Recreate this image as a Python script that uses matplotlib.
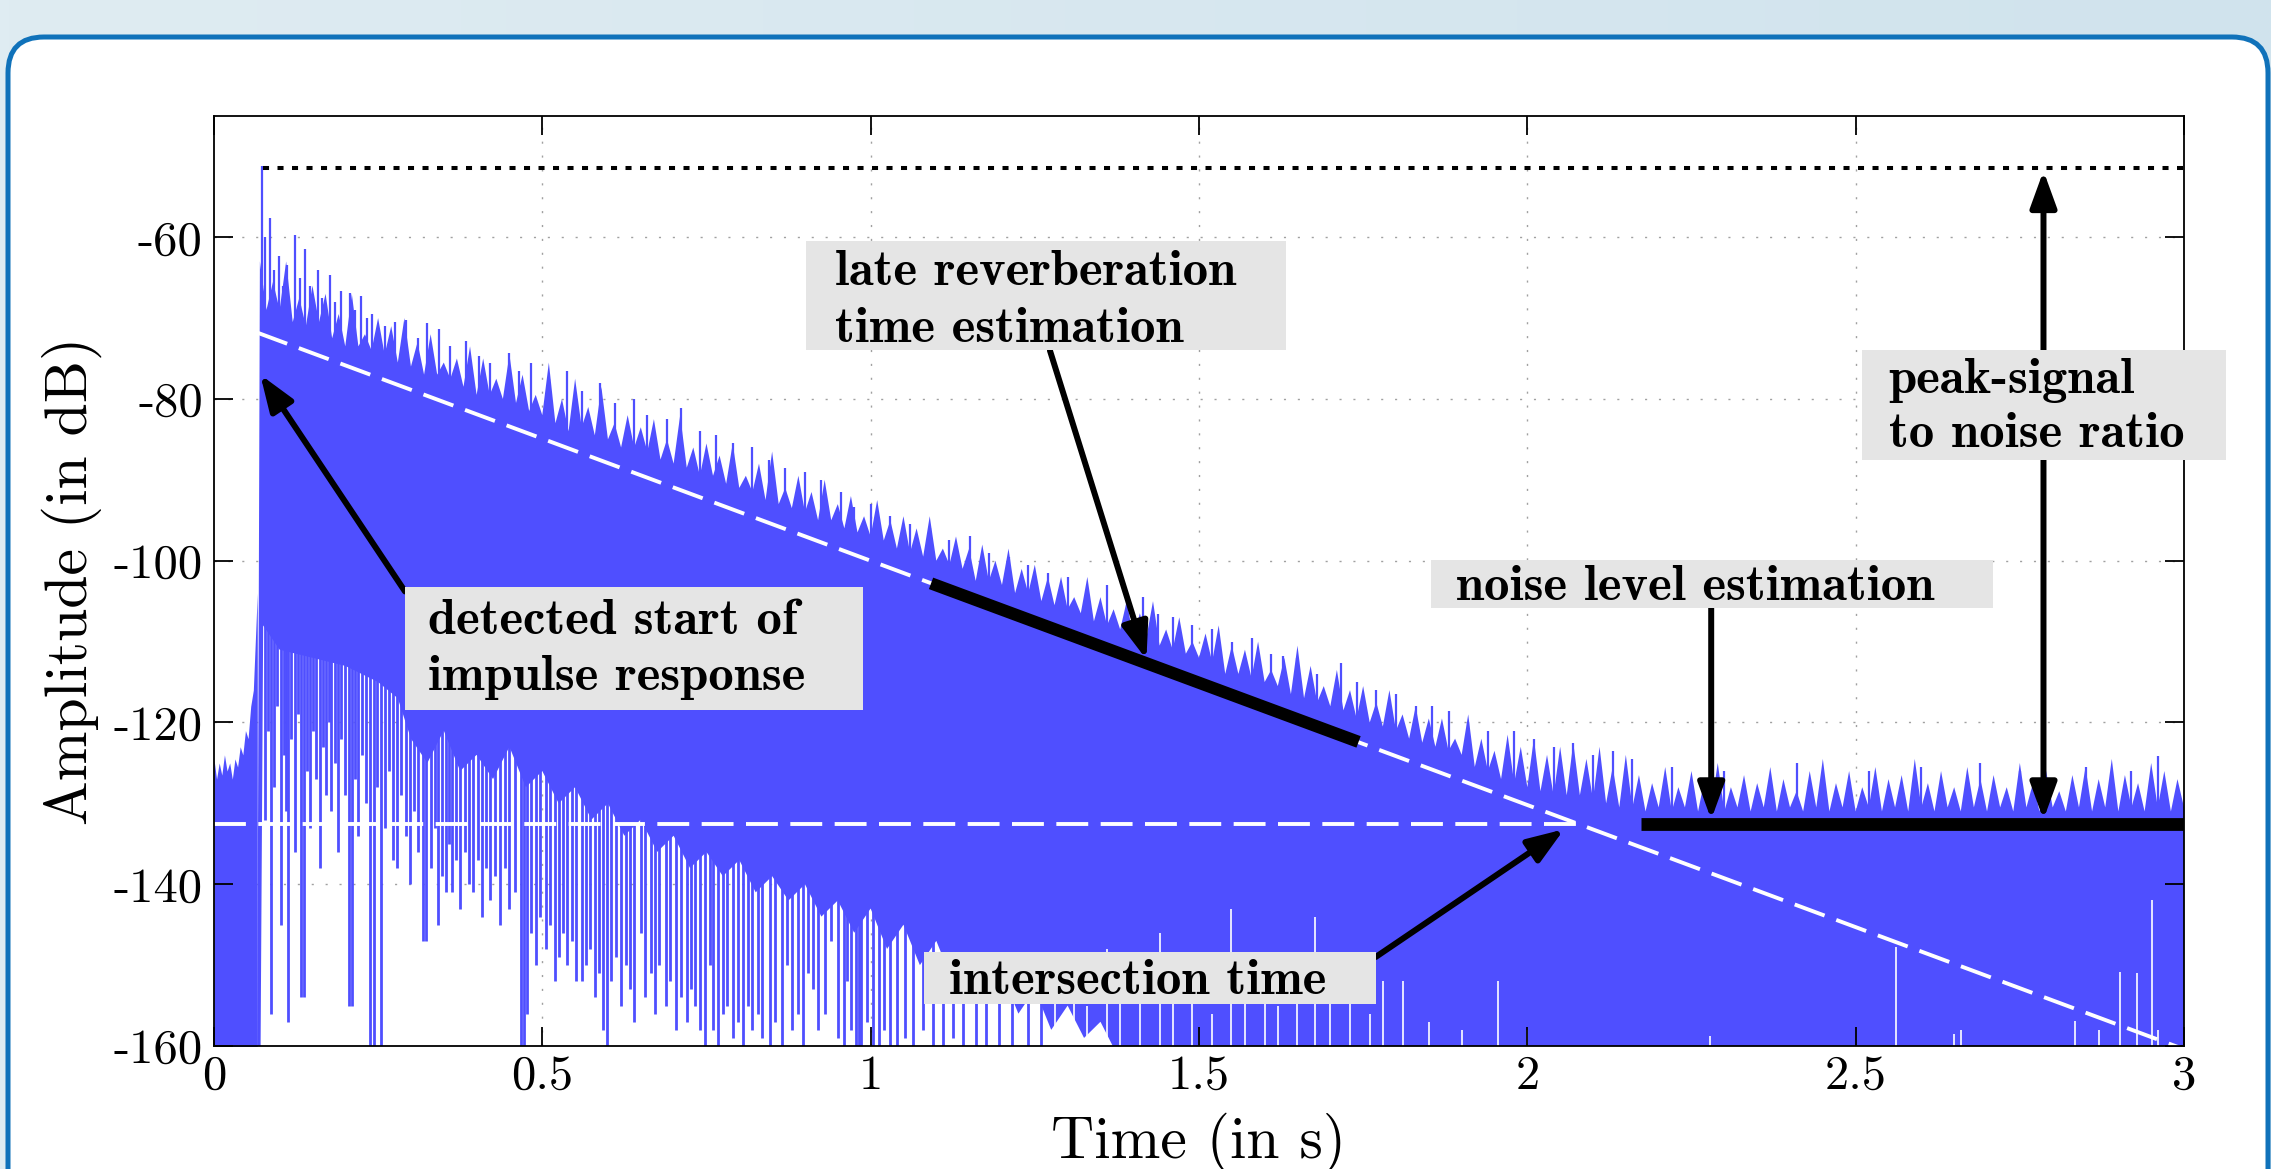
import numpy as np
import matplotlib.pyplot as plt
from matplotlib.patches import FancyBboxPatch, Rectangle
from matplotlib.colors import LinearSegmentedColormap
from matplotlib.ticker import FuncFormatter

plt.rcParams['font.family'] = 'cmr10'
plt.rcParams['mathtext.fontset'] = 'cm'
plt.rcParams['axes.unicode_minus'] = False

BLUE = '#4f4fff'
BOX = '#e5e5e5'

# ---- impulse response in dB (time in s) ----
# noise before the onset
pre_t = [0.000, 0.004, 0.008, 0.012, 0.016, 0.020, 0.024, 0.028, 0.032,
         0.036, 0.040, 0.044, 0.048, 0.052, 0.056, 0.060, 0.063, 0.066]
pre_db = [-124.5, -127, -125, -126.5, -124, -126, -125, -127, -124.5,
          -125.5, -123, -124, -121, -122, -118, -116, -110, -104]

# upper edge of the dense part, every 10 ms from 0.07 s
edge_db = [
    -63, -69, -65.5, -69, -63, -70.5, -67.5, -71, -66, -70.5,
    -67, -72.5, -69.5, -73.5, -67, -73.5, -72, -74, -70, -74.5,
    -71, -75.5, -70, -76, -73, -77, -72, -77, -75.5, -77.5,
    -75, -78.5, -73.5, -79.5, -75, -79.5, -77.5, -80, -74.5, -80.5,
    -77, -81.5, -79.5, -82, -75.5, -83, -80, -84, -77.5, -83.5,
    -81, -84.5, -78.5, -85, -83, -86, -82, -86, -83.5, -86.5,
    -82.5, -87.5, -85, -88, -82, -88.5, -86, -89.5, -85.5, -89.5,
    -87, -90.5, -85.5, -91, -89.5, -91.5, -88, -92.5, -86.5, -93,
    -91, -93.5, -89.5, -94, -91.5, -95, -90, -95, -93, -96,
    -92, -96.5, -94.5, -97, -92.5, -97.5, -95, -98.5, -94.5, -99,
    -96, -99.5, -94.5, -100, -98.5, -100.5, -97, -101, -98.5, -102.5,
    -98, -102.5, -100, -103, -98.5, -104, -101, -104, -100.5, -105,
    -102, -105.5, -102, -106, -104.5, -106.5, -102, -107.5, -104.5, -108,
    -106, -108.5, -105, -109.5, -106.5, -109.5, -105, -110.5, -108.5, -111,
    -107, -111.5, -110, -112, -109, -112.5, -108, -114, -110.5, -114,
    -111, -114.5, -110, -115, -113.5, -115.5, -112, -116.5, -110.5, -117,
    -113, -117.5, -115.5, -118, -113.5, -118.5, -116, -119.5, -115.5, -120,
    -117.5, -120.5, -116, -121, -119, -122, -118, -122.5, -119.5, -123,
    -119.5, -123.5, -122, -124, -119, -125.5, -122, -126, -123.5, -127,
    -121.5, -127.5, -123, -128, -122, -128.5, -124, -129, -123, -129,
    -122.5, -129, -124.5, -129.5, -123, -130, -125.5, -130.5, -124, -130.5,
    -126.5, -131, -127.5, -130.5, -125.5, -131, -128, -130.5, -126, -131,
    -127, -130.5, -125, -131, -128, -130.5, -126.5, -131, -127.5, -130.5,
    -125.5, -131, -127, -130.5, -128.5, -131, -126, -130.5, -124.5, -131,
    -127.5, -130.5, -126, -131, -128, -130.5, -125.5, -131, -127, -130.5,
    -126.5, -131, -124.5, -130.5, -127.5, -131, -126, -130.5, -128, -131,
    -125.5, -130.5, -127, -131, -126.5, -130.5, -128, -131, -125, -130.5,
    -127.5, -131, -126, -130.5, -128.5, -131, -126.5, -130.5, -125.5, -131,
    -127, -130.5, -124.5, -131, -126.5, -130.5, -127.5, -131, -125, -130.5,
    -126, -131, -127, -130.5,
]
edge_t = np.round(0.07 + 0.01 * np.arange(len(edge_db)), 2)

# lower edge of the dense part
floor_t = [0.066, 0.071, 0.075, 0.10, 0.15, 0.20, 0.25, 0.28,
           0.300, 0.325, 0.350, 0.375, 0.400, 0.425, 0.450, 0.475, 0.500,
           0.525, 0.550, 0.575, 0.600, 0.625, 0.650, 0.675, 0.700, 0.725,
           0.750, 0.775, 0.800, 0.825, 0.850, 0.875, 0.900, 0.925, 0.950,
           0.975, 1.000, 1.025, 1.050, 1.075, 1.100, 1.125, 1.150, 1.175,
           1.200, 1.225, 1.250, 1.275, 1.300, 1.325, 1.350, 1.375, 1.400, 3.000]
floor_db = [-161, -161, -108, -111, -112, -113, -115, -117,
            -122, -125, -121, -126, -124, -127, -123, -128, -126,
            -130, -128, -132, -130, -134, -132, -136, -134, -138,
            -136, -139, -137, -141, -139, -142, -140, -144, -142,
            -146, -143, -148, -145, -150, -147, -152, -149, -154,
            -151, -156, -153, -158, -155, -159, -157, -161, -161, -161]

# tall single peaks above the edge
hair_t = [0.0728, 0.078, 0.086, 0.092, 0.0986, 0.105, 0.112, 0.124, 0.131, 0.139,
          0.147, 0.158, 0.165, 0.177, 0.185, 0.194, 0.207, 0.215, 0.224, 0.233,
          0.241, 0.26, 0.275, 0.293, 0.31, 0.324, 0.343, 0.36, 0.384, 0.403,
          0.42, 0.449, 0.465, 0.483, 0.51, 0.537, 0.56, 0.588, 0.61, 0.64,
          0.66, 0.69, 0.711, 0.74, 0.765, 0.79, 0.82, 0.845, 0.87, 0.9,
          0.925, 0.955, 0.975, 1.0, 1.03, 1.06, 1.09, 1.12, 1.152, 1.18,
          1.21, 1.24, 1.27, 1.3, 1.33, 1.36, 1.39, 1.415, 1.438, 1.46,
          1.49, 1.52, 1.55, 1.58, 1.61, 1.628, 1.65, 1.68, 1.716, 1.74,
          1.77, 1.8, 1.83, 1.855, 1.88, 1.91, 1.94, 1.98, 2.01, 2.04,
          2.07, 2.10, 2.13, 2.16, 2.22, 2.3, 2.41, 2.52, 2.6, 2.69,
          2.75, 2.85, 2.92, 2.96]
hair_db = [-51.2, -60, -57.6, -64, -62.3, -66, -63.5, -59.7, -65, -61.5,
           -66, -64.1, -67.5, -64.7, -68, -66.6, -66.9, -69, -67.3, -70,
           -69.5, -71, -70.5, -70.2, -72.5, -70.6, -71.4, -73.5, -72.8, -74.7,
           -75.5, -74.3, -76.5, -75.5, -77.5, -76.5, -79, -78, -80.5, -80,
           -82, -82.5, -81.1, -84, -84.5, -85.5, -86, -87.5, -88.5, -89,
           -90, -91.5, -93.4, -93, -94.5, -95.5, -96, -97.5, -96.9, -99,
           -99.5, -100.5, -101.5, -102, -103.5, -103, -105, -104.5, -106.6, -107,
           -108, -108.5, -110, -109.5, -111.5, -111.8, -112, -114, -112.6, -115,
           -116, -116.5, -118, -118, -118.6, -120, -121, -121, -122, -123,
           -122.5, -124, -123.5, -124.5, -125.5, -126, -125, -126, -125.5, -125,
           -126, -125.5, -126, -124.2]

# deep single dips below the dense part (time, lowest level)
drops = [
    (0.078, -132), (0.083, -121), (0.087, -156), (0.091, -128), (0.096, -118),
    (0.102, -145), (0.106, -124), (0.110, -131), (0.113, -157), (0.118, -122),
    (0.123, -136), (0.128, -119), (0.132, -154), (0.137, -154), (0.141, -126),
    (0.146, -133), (0.151, -121), (0.156, -127), (0.161, -138), (0.166, -123),
    (0.171, -129), (0.175, -120), (0.179, -131), (0.184, -125), (0.189, -136),
    (0.194, -122), (0.199, -129), (0.206, -155), (0.210, -155), (0.215, -127),
    (0.220, -134), (0.226, -124), (0.232, -130), (0.238, -161), (0.243, -161),
    (0.248, -128), (0.255, -161), (0.260, -133), (0.266, -126), (0.272, -137),
    (0.279, -138), (0.285, -129), (0.292, -134), (0.298, -140), (0.305, -131),
    (0.311, -136), (0.318, -147), (0.323, -147), (0.330, -138), (0.336, -133),
    (0.341, -145), (0.347, -139), (0.353, -141), (0.358, -135), (0.362, -141),
    (0.368, -137), (0.375, -143), (0.382, -136), (0.388, -140), (0.395, -141),
    (0.402, -137), (0.408, -144), (0.415, -138), (0.420, -142), (0.428, -139),
    (0.435, -145), (0.443, -138), (0.450, -143), (0.459, -141), (0.467, -161),
    (0.472, -161), (0.476, -156), (0.483, -146), (0.490, -150), (0.497, -144),
    (0.505, -148), (0.512, -145), (0.520, -152), (0.525, -149), (0.532, -146),
    (0.538, -150), (0.545, -147), (0.552, -152), (0.560, -152), (0.566, -150),
    (0.573, -148), (0.580, -154), (0.586, -151), (0.592, -158), (0.598, -161),
    (0.605, -152), (0.612, -149), (0.620, -155), (0.627, -150), (0.634, -153),
    (0.640, -157), (0.650, -146), (0.657, -154), (0.665, -151), (0.672, -156),
    (0.678, -150), (0.688, -155), (0.695, -152), (0.703, -158), (0.712, -154),
    (0.720, -157), (0.726, -153), (0.733, -155), (0.740, -158), (0.748, -161),
    (0.755, -150), (0.760, -158), (0.767, -161), (0.775, -156), (0.782, -155),
    (0.790, -159), (0.798, -157), (0.806, -161), (0.813, -155), (0.820, -158),
    (0.828, -156), (0.835, -159), (0.847, -161), (0.855, -157), (0.865, -161),
    (0.872, -150), (0.880, -158), (0.890, -156), (0.897, -161), (0.905, -151),
    (0.912, -153), (0.920, -158), (0.930, -156), (0.940, -147), (0.950, -159),
    (0.959, -161), (0.964, -152), (0.970, -158), (0.977, -161), (0.982, -161),
    (0.986, -161), (0.995, -157), (1.003, -161), (1.012, -161), (1.020, -158),
    (1.030, -161), (1.040, -161), (1.052, -159), (1.065, -161), (1.080, -158),
    (1.095, -161), (1.110, -161), (1.125, -159), (1.140, -161), (1.160, -161),
    (1.175, -161), (1.195, -161), (1.215, -161), (1.240, -161), (1.260, -161),
]

# thin white gaps reaching up from the bottom (time, top level)
gaps = [
    (1.28, -152), (1.31, -150), (1.33, -155), (1.36, -148), (1.38, -153),
    (1.41, -151), (1.44, -146), (1.46, -154), (1.49, -150), (1.52, -156),
    (1.549, -143), (1.57, -152), (1.60, -149), (1.62, -155), (1.65, -151),
    (1.677, -144), (1.70, -153), (1.73, -150), (1.76, -156), (1.78, -152),
    (1.81, -152), (1.85, -157), (1.90, -158), (1.956, -152), (2.0, -158),
    (2.278, -158.7), (2.561, -147.8), (2.65, -158.5), (2.66, -158),
    (2.834, -156.9), (2.87, -158), (2.902, -150.9), (2.928, -151),
    (2.951, -142), (2.96, -158),
]

# estimates drawn on top
decay_t = [0.066, 3.0]
decay_db = [-71.8, -160.4]
noise_level = -132.6
noise_dash_t = [0.0, 2.08]
late_fit_t = [1.092, 1.743]
late_fit_db = [-102.8, -122.4]
noise_fit_t = [2.173, 3.0]
peak_level = -51.4
peak_t = [0.075, 3.0]

# ---- figure ----
fig = plt.figure(figsize=(22.71, 11.69), dpi=100)

bg = fig.add_axes([0, 0, 1, 1], zorder=-10)
grad = np.linspace(0, 1, 256).reshape(1, -1)
bg.imshow(grad, aspect='auto', extent=[0, 1, 0, 1],
          cmap=LinearSegmentedColormap.from_list('bg', ['#dfecf2', '#d0e3ed']))
bg.set_axis_off()

panel = FancyBboxPatch((0.08, -0.5), 22.60, 11.82,
                       boxstyle='round,pad=0,rounding_size=0.36',
                       transform=fig.dpi_scale_trans, facecolor='white',
                       edgecolor='#1072ba', linewidth=3.6, zorder=-5)
fig.add_artist(panel)

ax = fig.add_axes([0.0942, 0.1052, 0.8675, 0.7957])
ax.set_xlim(0, 3)
ax.set_ylim(-160, -45)

# grid under the data
for xv in [0.5, 1.0, 1.5, 2.0, 2.5]:
    ax.axvline(xv, color='#a0a0a0', lw=1.0, dashes=(1.5, 8.5), zorder=0.5)
for yv in [-140, -120, -100, -80, -60]:
    ax.axhline(yv, color='#a0a0a0', lw=1.0, dashes=(1.5, 8.5), zorder=0.5)

# signal
ax.fill_between(pre_t, -161, pre_db, color=BLUE, lw=0, zorder=1)
body = list(zip(edge_t, edge_db)) + list(zip(floor_t[::-1], floor_db[::-1]))
ax.fill(*zip(*body), color=BLUE, lw=0, zorder=1)
ax.vlines(hair_t, np.array(hair_db) - 15, hair_db, color=BLUE, lw=1.6, zorder=1)

drop_t, drop_db = zip(*drops)
fl = np.array(floor_db)
idx = np.searchsorted(floor_t, drop_t, side='right') - 1
drop_top = np.maximum(fl[idx], fl[idx + 1]) + 1
ax.vlines(drop_t, drop_db, drop_top, color=BLUE, lw=2.0, zorder=1)

gap_t, gap_db = zip(*gaps)
ax.vlines(gap_t, -161, gap_db, color='white', lw=1.2, zorder=1.2)

# estimated lines
ax.plot(decay_t, decay_db, color='white', lw=2.8, dashes=(8.2, 3.2), zorder=3)
ax.plot(noise_dash_t, [noise_level] * 2, color='white', lw=2.8, dashes=(8.2, 3.2), zorder=3)
ax.plot(peak_t, [peak_level] * 2, color='black', lw=2.9, dashes=(1.5, 2.1), zorder=3)
ax.plot(late_fit_t, late_fit_db, color='black', lw=8.8, solid_capstyle='butt', zorder=4)
ax.plot(noise_fit_t, [noise_level] * 2, color='black', lw=9.2, solid_capstyle='butt', zorder=4)

# annotation boxes, texts and arrows
boxes = [
    (0.291, 0.988, -118.5, -103.3),
    (0.902, 1.632, -74.0, -60.5),
    (2.510, 3.064, -87.5, -74.0),
    (1.853, 2.709, -105.8, -99.9),
    (1.081, 1.769, -154.8, -148.4),
]
for x0, x1, y0, y1 in boxes:
    ax.add_patch(Rectangle((x0, y0), x1 - x0, y1 - y0, facecolor=BOX,
                           edgecolor='none', zorder=6, clip_on=False))

lines = [
    (0.326, -109.0, 'detected start of'), (0.326, -116.0, 'impulse response'),
    (0.945, -65.9, 'late reverberation'), (0.945, -72.9, 'time estimation'),
    (2.55, -79.3, 'peak-signal'), (2.55, -86.0, 'to noise ratio'),
    (1.891, -104.8, 'noise level estimation'),
    (1.120, -153.6, 'intersection time'),
]
for x, y, s in lines:
    ax.text(x, y, s, family='cmb10', fontsize=36.5, ha='left', va='baseline', zorder=7)

arrows = [
    ((0.291, -103.8), (0.0706, -77.0)),
    ((1.273, -74.0), (1.42, -112.2)),
    ((2.786, -74.0), (2.786, -51.8)),
    ((2.786, -87.5), (2.786, -132.0)),
    ((2.28, -105.8), (2.28, -132.0)),
    ((1.769, -149.0), (2.056, -133.2)),
]
for tail, head in arrows:
    ax.annotate('', xy=head, xytext=tail, zorder=5, annotation_clip=False,
                arrowprops=dict(arrowstyle='-|>,head_length=1.1,head_width=0.4',
                                mutation_scale=20, lw=4.3, color='black',
                                shrinkA=0, shrinkB=0))

# axes style
ax.set_xticks([0, 0.5, 1, 1.5, 2, 2.5, 3])
ax.set_yticks([-160, -140, -120, -100, -80, -60])
fmt = FuncFormatter(lambda v, p: '%g' % v)
ax.xaxis.set_major_formatter(fmt)
ax.yaxis.set_major_formatter(fmt)
ax.tick_params(direction='in', length=13.5, width=1.3, top=True, right=True,
               labelsize=35, colors='black')
ax.tick_params(axis='x', pad=6)
ax.tick_params(axis='y', pad=8)
for sp in ax.spines.values():
    sp.set_linewidth(1.3)
    sp.set_zorder(5.5)

ax.set_xlabel('Time (in s)', fontsize=43)
ax.set_ylabel('Amplitude (in dB)', fontsize=43)
ax.xaxis.set_label_coords(0.5, -0.071)
ax.yaxis.set_label_coords(-0.057, 0.5)

fig.savefig('out.png', dpi=100)
